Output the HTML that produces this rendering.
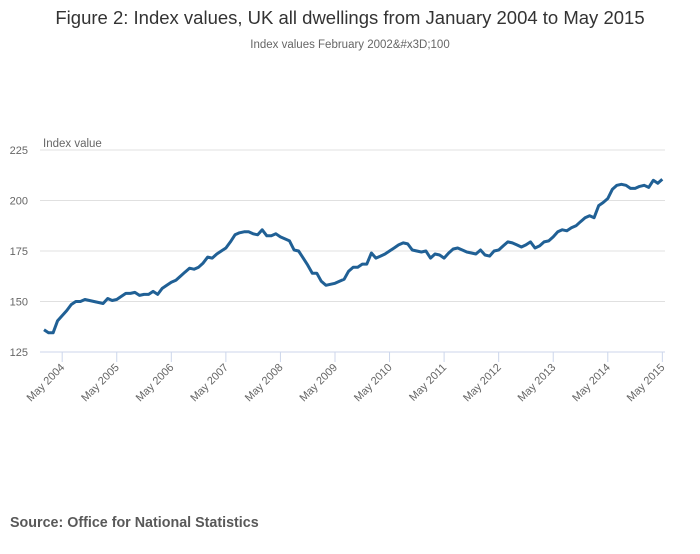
<!DOCTYPE html>
<html><head><meta charset="utf-8"><style>
body{margin:0;background:#fff;width:700px;height:549px;overflow:hidden;font-family:"Liberation Sans",sans-serif}
</style></head><body>
<svg id="chart" width="700" height="549" xmlns="http://www.w3.org/2000/svg">
<text x="350" y="24" text-anchor="middle" font-size="18.5" fill="#333">Figure 2: Index values, UK all dwellings from January 2004 to May 2015</text>
<text x="350" y="48" text-anchor="middle" font-size="11.5" fill="#666">Index values February 2002&amp;#x3D;100</text>
<text x="43" y="147" font-size="11.5" fill="#666">Index value</text>
<g id="grid"></g>
<g id="yticks"></g>
<g id="xticks"></g>
<path id="line" fill="none" stroke="#206095" stroke-width="3" stroke-linejoin="round"/>
<text x="10" y="527" font-size="14.3" font-weight="bold" fill="#595959">Source: Office for National Statistics</text>
</svg>
<script>
const yTicks=[125,150,175,200,225];
const xTickLabels=["May 2004","May 2005","May 2006","May 2007","May 2008","May 2009","May 2010","May 2011","May 2012","May 2013","May 2014","May 2015"];
const values=[
136,134.5,134.5,140.5,143,145.5,148.5,150,150,151,150.5,150,
149.5,149,151.5,150.5,151,152.5,154,154,154.5,153,153.5,153.5,
155,153.5,156.5,158,159.5,160.5,162.5,164.5,166.5,166,167,169,
172,171.5,173.5,175,176.5,179.5,183,184,184.5,184.5,183.5,183,
185.5,182.5,182.5,183.5,182,181,180,175.5,175,171.5,168,164,
164,160,158,158.5,159,160,161,165,167,167,168.5,168.5,
174,171.5,172.5,173.5,175,176.5,178,179,178.5,175.5,175,174.5,
175,171.5,173.5,173,171.5,174,176,176.5,175.5,174.5,174,173.5,
175.5,173,172.5,175,175.5,177.5,179.5,179,178,177,178,179.5,
176.5,177.5,179.5,180,182,184.5,185.5,185,186.5,187.5,189.5,191.5,
192.5,191.5,197.5,199,201,205.5,207.5,208,207.5,206,206,207,
207.5,206.5,210,208.5,210.5];
const ns="http://www.w3.org/2000/svg";
const x0=44,pxPerMonth=54.56/12,yBase=352,pxPerUnit=2.02;
const xs=i=>x0+i*pxPerMonth;
const ys=v=>yBase-(v-125)*pxPerUnit;
const grid=document.getElementById('grid'),yt=document.getElementById('yticks'),xt=document.getElementById('xticks');
yTicks.forEach(v=>{
 const l=document.createElementNS(ns,'line');
 
 
 l.setAttribute('x1',40);l.setAttribute('x2',665);l.setAttribute('y1',ys(v));l.setAttribute('y2',ys(v));
 l.setAttribute('stroke',v===125?'#ccd6eb':'#e0e0e0');l.setAttribute('stroke-width',1);
 grid.appendChild(l);
 const t=document.createElementNS(ns,'text');
 
 
 t.setAttribute('x',28);t.setAttribute('y',ys(v)+4);t.setAttribute('text-anchor','end');
 t.setAttribute('font-size','11');t.setAttribute('fill','#666');t.textContent=v;yt.appendChild(t);
});
xTickLabels.forEach((s,k)=>{
 const x=xs(4+k*12);
 const l=document.createElementNS(ns,'line');
 
 
 l.setAttribute('x1',x);l.setAttribute('x2',x);l.setAttribute('y1',352);l.setAttribute('y2',362);
 l.setAttribute('stroke','#ccd6eb');xt.appendChild(l);
 const t=document.createElementNS(ns,'text');
 
 
 t.setAttribute('x',x+3);t.setAttribute('y',368);t.setAttribute('text-anchor','end');
 t.setAttribute('transform','rotate(-45 '+(x+3)+' 368)');
 t.setAttribute('font-size','11');t.setAttribute('fill','#666');t.textContent=s;xt.appendChild(t);
});
document.getElementById('line').setAttribute('d',values.map((v,i)=>(i?'L':'M')+xs(i).toFixed(1)+' '+ys(v).toFixed(1)).join(''));
</script>
</body></html>
